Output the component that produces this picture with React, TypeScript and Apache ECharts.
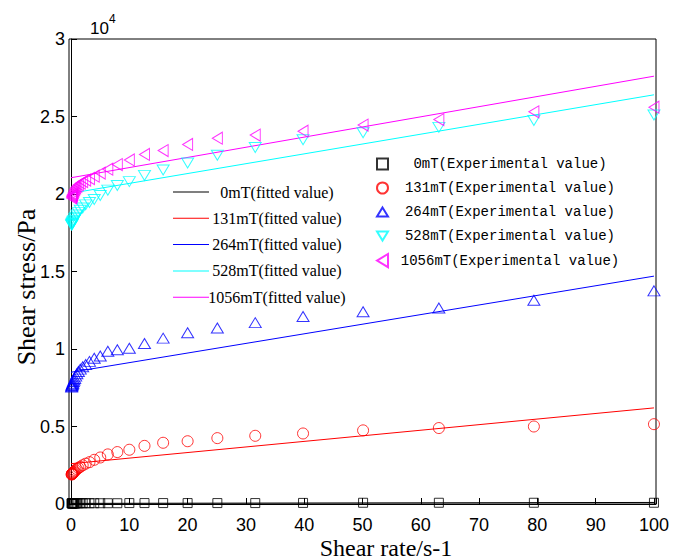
import React, { useEffect, useRef } from 'react';
import * as echarts from 'echarts';

// Shear rate (s-1) of the experimental points, log spaced
const shearRate = [0.1, 0.126, 0.158, 0.2, 0.251, 0.316, 0.398, 0.501, 0.631, 0.794, 1, 1.26, 1.58, 2, 2.51, 3.16, 3.98, 5.01, 6.31, 7.94, 10, 12.6, 15.8, 20, 25.1, 31.6, 39.8, 50.1, 63.1, 79.4, 100];

// Experimental shear stress (x 10^4 Pa)
const exp0mT = [0.004, 0.004, 0.004, 0.004, 0.004, 0.004, 0.004, 0.004, 0.004, 0.004, 0.005, 0.005, 0.005, 0.005, 0.005, 0.005, 0.005, 0.005, 0.005, 0.005, 0.006, 0.006, 0.006, 0.006, 0.006, 0.006, 0.007, 0.008, 0.008, 0.008, 0.008];
const exp131mT = [0.19, 0.192, 0.193, 0.195, 0.197, 0.2, 0.203, 0.207, 0.212, 0.218, 0.225, 0.232, 0.24, 0.25, 0.26, 0.27, 0.285, 0.3, 0.32, 0.335, 0.35, 0.375, 0.395, 0.405, 0.425, 0.44, 0.455, 0.475, 0.49, 0.5, 0.515];
const exp264mT = [0.755, 0.76, 0.765, 0.77, 0.775, 0.78, 0.79, 0.8, 0.81, 0.825, 0.84, 0.855, 0.87, 0.885, 0.9, 0.92, 0.94, 0.955, 0.985, 0.995, 1.005, 1.035, 1.07, 1.105, 1.135, 1.17, 1.21, 1.24, 1.265, 1.315, 1.375];
const exp528mT = [1.8, 1.8, 1.805, 1.81, 1.815, 1.82, 1.825, 1.83, 1.84, 1.85, 1.865, 1.88, 1.895, 1.91, 1.93, 1.945, 1.965, 1.99, 2.025, 2.055, 2.08, 2.12, 2.155, 2.2, 2.25, 2.3, 2.35, 2.395, 2.43, 2.475, 2.51];
const exp1056mT = [1.975, 1.98, 1.985, 1.99, 1.995, 2.0, 2.01, 2.02, 2.03, 2.04, 2.05, 2.06, 2.07, 2.08, 2.09, 2.1, 2.115, 2.135, 2.16, 2.19, 2.22, 2.255, 2.28, 2.32, 2.36, 2.38, 2.405, 2.445, 2.48, 2.53, 2.56];

// Fitted lines (x 10^4 Pa) at the ends of the shear-rate range
const fitRate = [0, 100];
const fit0mT = [0.004, 0.01];
const fit131mT = [0.26, 0.62];
const fit264mT = [0.85, 1.47];
const fit528mT = [2.005, 2.64];
const fit1056mT = [2.105, 2.76];

const fields = ['0mT', '131mT', '264mT', '528mT', '1056mT'];
const colors = ['#000000', '#ff0000', '#0000ff', '#00ffff', '#ff00ff'];
const expSets = [exp0mT, exp131mT, exp264mT, exp528mT, exp1056mT];
const fitSets = [fit0mT, fit131mT, fit264mT, fit528mT, fit1056mT];

const symbols: any[] = [
  'path://M0,0L10,0L10,10L0,10Z',
  'circle',
  'path://M6,0L12,10L0,10Z',
  'path://M0,0L12,0L6,10Z',
  'path://M0,6L10,0L10,12Z',
];
const symbolSizes: any[] = [9, 11, [12, 10], [12, 10], [10, 12]];

const fitName = (f: string) => `${f}(fitted value)`;
const expName = (f: string) => `${f}(Experimental value)`;
const lineIcon = 'path://M0,0L36,0L36,1L0,1Z';

export default function App() {
  const ref = useRef<HTMLDivElement>(null);
  useEffect(() => {
    const chart = echarts.init(ref.current!, null, { renderer: 'svg' });
    const series: any[] = [];
    fields.forEach((f, i) => {
      series.push({
        type: 'line',
        name: fitName(f),
        data: fitRate.map((x, k) => [x, fitSets[i][k]]),
        symbol: 'none',
        lineStyle: { color: colors[i], width: 1 },
        itemStyle: { color: colors[i] },
        z: 2,
      });
    });
    fields.forEach((f, i) => {
      series.push({
        type: 'scatter',
        name: expName(f),
        data: shearRate.map((x, k) => [x, expSets[i][k]]),
        symbol: symbols[i],
        symbolSize: symbolSizes[i],
        itemStyle: { color: 'rgba(0,0,0,0)', borderColor: colors[i], borderWidth: 1 },
        z: 3,
      });
    });
    const option: any = {
      animation: false,
      backgroundColor: '#ffffff',
      grid: { left: 69, right: 20, top: 39, bottom: 56, show: true, borderColor: '#000', borderWidth: 1, backgroundColor: 'transparent' },
      xAxis: {
        type: 'value',
        min: -0.35,
        max: 100.35,
        splitNumber: 10,
        splitLine: { show: false },
        axisLine: { lineStyle: { color: '#000' } },
        axisTick: { inside: true, length: 6, lineStyle: { color: '#000' } },
        axisLabel: {
          color: '#000',
          fontFamily: 'Liberation Sans',
          fontSize: 18,
          margin: 12,
          formatter: (v: number) => (Math.abs(v - Math.round(v / 10) * 10) < 1e-6 ? String(Math.round(v)) : ''),
        },
      },
      yAxis: {
        type: 'value',
        min: 0,
        max: 3,
        interval: 0.5,
        splitLine: { show: false },
        axisLine: { lineStyle: { color: '#000' } },
        axisTick: { inside: true, length: 6, lineStyle: { color: '#000' } },
        axisLabel: { color: '#000', fontFamily: 'Liberation Sans', fontSize: 18, margin: 4 },
      },
      legend: [
        {
          data: fields.map((f, i) => ({ name: fitName(f), icon: lineIcon, itemStyle: { color: colors[i] } })),
          orient: 'vertical',
          left: 168,
          top: 179,
          itemWidth: 36,
          itemHeight: 16,
          itemGap: 10.3,
          symbolKeepAspect: true,
          formatter: (n: string) => `{a|${n}}`,
          textStyle: {
            rich: { a: { width: 126, align: 'center', fontFamily: 'Liberation Serif', fontSize: 16, lineHeight: 16, color: '#000' } },
          },
        },
        {
          data: fields.map(expName),
          orient: 'vertical',
          left: 371,
          top: 152,
          itemWidth: 11,
          itemHeight: 16,
          itemGap: 10,
          symbolKeepAspect: true,
          formatter: (n: string) => `{a|${n}}`,
          textStyle: {
            rich: { a: { width: 234, align: 'center', fontFamily: 'Liberation Mono', fontSize: 14, lineHeight: 16, color: '#000' } },
          },
        },
      ],
      graphic: [
        { type: 'text', left: 90, top: 20, style: { text: '10', font: '17px "Liberation Sans"', fill: '#000' } },
        { type: 'text', left: 109, top: 13, style: { text: '4', font: '12px "Liberation Sans"', fill: '#000' } },
        {
          type: 'text',
          x: 386,
          y: 548,
          style: { text: 'Shear rate/s-1', font: '24px "Liberation Serif"', fill: '#000', align: 'center', verticalAlign: 'middle' },
        },
        {
          type: 'text',
          x: 26,
          y: 287,
          rotation: Math.PI / 2,
          style: { text: 'Shear stress/Pa', font: '26px "Liberation Serif"', fill: '#000', align: 'center', verticalAlign: 'middle' },
        },
      ],
      series,
    };
    chart.setOption(option);
    return () => chart.dispose();
  }, []);
  return <div ref={ref} style={{ position: 'fixed', left: 0, top: 0, width: 676, height: 560 }} />;
}
